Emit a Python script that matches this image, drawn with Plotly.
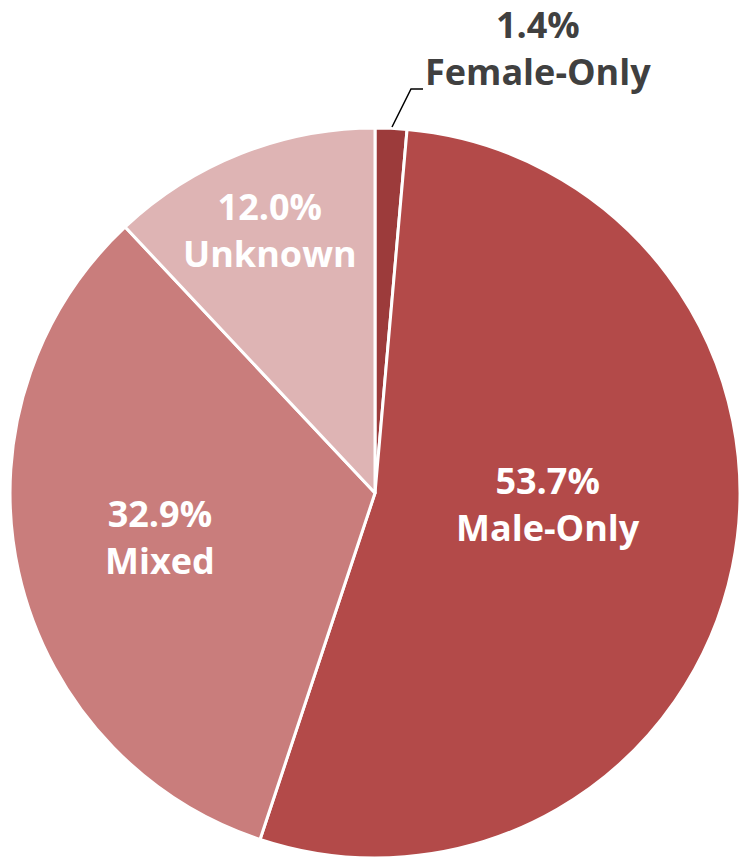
import plotly.graph_objects as go

# slice data (clockwise from 12 o'clock)
labels = ["Female-Only", "Male-Only", "Mixed", "Unknown"]
shares = [1.4, 53.7, 32.9, 12.0]
colors = ["#9C3B3B", "#B34A49", "#C97D7C", "#DEB4B4"]
text_colors = ["#404040", "white", "white", "white"]

W, H = 740, 862

# label centres in pixels (x, y of the two-line block)
label_pos = [(538, 48), (548, 504), (160, 537), (270, 230)]


def px_to_paper(x, y):
    return x / W, 1 - y / H


fig = go.Figure(go.Pie(
    labels=labels,
    values=shares,
    sort=False,
    direction="clockwise",
    rotation=0,
    textinfo="none",
    hoverinfo="label+percent",
    marker=dict(colors=colors, line=dict(color="white", width=3)),
    domain=dict(x=[10 / W, 1], y=[0.0046, 0.8514]),
    showlegend=False,
))

for lab, val, col, (x, y) in zip(labels, shares, text_colors, label_pos):
    ax, ay = px_to_paper(x, y)
    fig.add_annotation(
        x=ax, y=ay, xref="paper", yref="paper",
        text=f"{val:.1f}%<br>{lab}",
        showarrow=False,
        font=dict(family="Open Sans", size=36, color=col, weight="bold"),
        align="center",
        xanchor="center", yanchor="middle",
    )

# leader line for the small Female-Only slice
pts = [px_to_paper(392, 127), px_to_paper(411, 89), px_to_paper(423, 89)]
path = "M {} {} L {} {} L {} {}".format(*[c for p in pts for c in p])
fig.add_shape(type="path", path=path, xref="paper", yref="paper",
              line=dict(color="black", width=1.5))

fig.update_layout(
    width=W, height=H,
    margin=dict(l=0, r=0, t=0, b=0),
    paper_bgcolor="white",
    plot_bgcolor="white",
)

# drop the default body margin so the figure sits at the window's corner
fig.write_html(
    "out.html",
    config={"displayModeBar": False},
    post_script="document.body.style.margin='0';document.body.style.overflow='hidden';",
)
